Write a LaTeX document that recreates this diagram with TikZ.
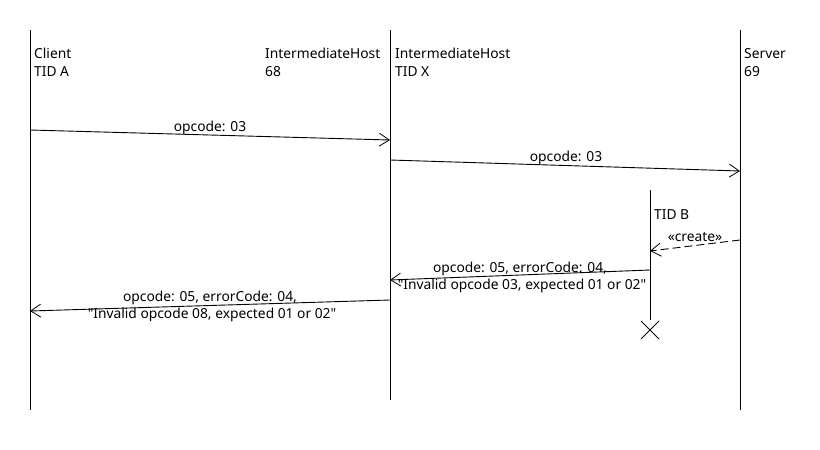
\documentclass[tikz,border=0pt]{standalone}
\usepackage{fontspec}
\setmainfont{Noto Sans}[Ligatures=TeXOff]
\usetikzlibrary{arrows.meta}
\begin{document}
\begin{tikzpicture}[x=1pt,y=-1pt,
  life/.style={draw=black,line width=0.9pt},
  msg/.style={draw=black,line width=0.9pt,-{Straight Barb[length=10pt,width=13pt,line width=0.8pt]}},
  lbl/.style={font=\fontsize{13.8}{17}\selectfont,inner sep=0pt,align=center},
  head/.style={font=\fontsize{13.8}{18}\selectfont,inner sep=0pt,align=left,anchor=north west}]
\useasboundingbox (0,0) rectangle (820,450);
% lifelines
\coordinate (c1) at (30,30); \coordinate (c2) at (30,410);
\coordinate (h1) at (390,30); \coordinate (h2) at (390,400);
\coordinate (s1) at (740,30); \coordinate (s2) at (740,410);
\coordinate (b1) at (650,190); \coordinate (b2) at (650,320);
\draw[life] (c1) -- (c2);
\draw[life] (h1) -- (h2);
\draw[life] (s1) -- (s2);
\draw[life] (b1) -- (b2);
% destroy mark
\coordinate (x0) at (650,330);
\draw[line width=0.9pt] ([shift={(-9,-9)}]x0) -- ([shift={(9,9)}]x0)
  ([shift={(-9,9)}]x0) -- ([shift={(9,-9)}]x0);
% headers
\node[head] (hc) at (34,48) {Client\\TID A};
\node[head] (hi) at (265,48) {IntermediateHost\\68};
\node[head] (hx) at (395,48) {IntermediateHost\\TID X};
\node[head] (hs) at (744,48) {Server\\69};
\node[head] (hb) at (654,209) {TID B};
% messages
\coordinate (m1a) at (30,130); \coordinate (m1b) at (390,140);
\draw[msg] (m1a) -- (m1b);
\node[lbl,anchor=base] (l1) at (210,131) {opcode: 03};
\coordinate (m2a) at (390,160); \coordinate (m2b) at (740,171);
\draw[msg] (m2a) -- (m2b);
\node[lbl,anchor=base] (l2) at (566,161) {opcode: 03};
\coordinate (m3a) at (740,240); \coordinate (m3b) at (650,251);
\draw[msg,dashed,dash pattern=on 8pt off 4pt] (m3a) -- (m3b);
\node[lbl,anchor=base] (l3) at (695,241) {«create»};
\coordinate (m4a) at (650,270); \coordinate (m4b) at (390,280);
\draw[msg] (m4a) -- (m4b);
\node[lbl,anchor=base] (l4a) at (520,272) {opcode: 05, errorCode: 04,};
\node[lbl,anchor=base] (l4b) at (522,289) {"Invalid opcode 03, expected 01 or 02"};
\coordinate (m5a) at (390,300); \coordinate (m5b) at (30,311);
\draw[msg] (m5a) -- (m5b);
\node[lbl,anchor=base] (l5a) at (210,301) {opcode: 05, errorCode: 04,};
\node[lbl,anchor=base] (l5b) at (212,318) {"Invalid opcode 08, expected 01 or 02"};
\end{tikzpicture}
\end{document}
